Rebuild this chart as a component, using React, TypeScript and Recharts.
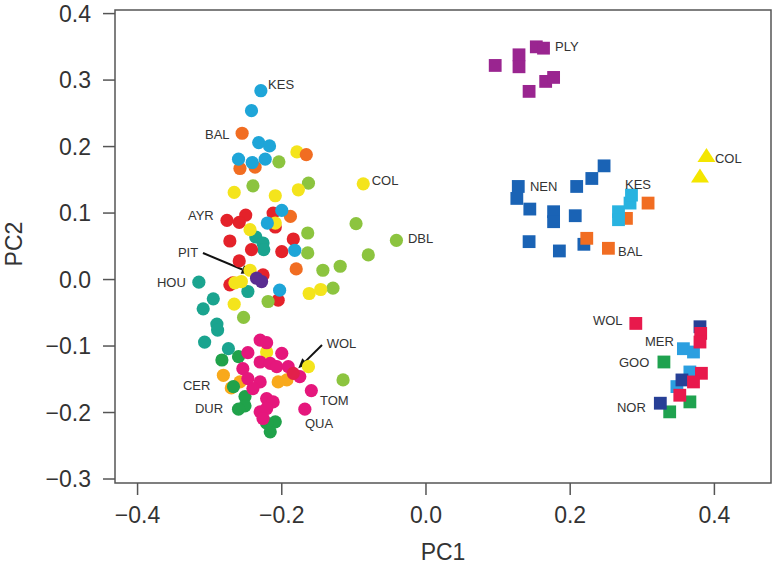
import React from 'react';
import { ScatterChart, Scatter, XAxis, YAxis, ReferenceArea, ReferenceLine, Label } from 'recharts';

const FONT = '"Liberation Sans", Arial, Helvetica, sans-serif';

// ---------- axis ticks ----------
const xTicks = [-0.4, -0.2, 0, 0.2, 0.4];
const yTicks = [-0.3, -0.2, -0.1, 0, 0.1, 0.2, 0.3, 0.4];
const xDomain = [-0.4313, 0.4785];
const yDomain = [-0.306, 0.4054];

// ---------- circles (left cluster) ----------
const cyanCircles = [[-0.229, 0.284], [-0.242, 0.254], [-0.232, 0.206], [-0.217, 0.201], [-0.260, 0.181], [-0.241, 0.176], [-0.223, 0.181], [-0.200, 0.104], [-0.220, 0.085], [-0.182, 0.044], [-0.203, -0.016]];
const orangeCircles = [[-0.255, 0.220], [-0.166, 0.188], [-0.258, 0.167], [-0.237, 0.169], [-0.188, 0.095], [-0.180, 0.016]];
const yellowCircles = [[-0.179, 0.192], [-0.266, 0.131], [-0.209, 0.126], [-0.177, 0.135], [-0.087, 0.144], [-0.209, 0.085], [-0.244, 0.075], [-0.244, 0.014], [-0.256, -0.003], [-0.265, -0.005], [-0.162, -0.021], [-0.146, -0.015], [-0.266, -0.037], [-0.221, -0.109], [-0.163, -0.131]];
const limeCircles = [[-0.204, 0.177], [-0.240, 0.141], [-0.163, 0.145], [-0.164, 0.070], [-0.164, 0.040], [-0.097, 0.084], [-0.080, 0.037], [-0.041, 0.059], [-0.119, 0.020], [-0.129, -0.013], [-0.143, 0.014], [-0.115, -0.151], [-0.219, -0.033], [-0.253, -0.057]];
const redCircles = [[-0.250, 0.097], [-0.212, 0.100], [-0.276, 0.089], [-0.259, 0.086], [-0.209, 0.079], [-0.272, 0.058], [-0.242, 0.045], [-0.200, 0.042], [-0.184, 0.061], [-0.259, 0.028], [-0.226, 0.007], [-0.268, -0.005], [-0.272, -0.008], [-0.205, -0.031]];
const tealCircles = [[-0.236, 0.064], [-0.226, 0.055], [-0.225, 0.045], [-0.315, -0.004], [-0.247, -0.018], [-0.295, -0.029], [-0.309, -0.044], [-0.290, -0.067], [-0.289, -0.076], [-0.307, -0.094], [-0.274, -0.104]];
const purpleCircles = [[-0.235, 0.002], [-0.228, -0.003]];
const lightOrangeCircles = [[-0.281, -0.144], [-0.258, -0.154], [-0.205, -0.154], [-0.193, -0.151], [-0.270, -0.163]];
const greenCircles = [[-0.283, -0.121], [-0.260, -0.116], [-0.267, -0.161], [-0.251, -0.176], [-0.251, -0.190], [-0.260, -0.195], [-0.209, -0.214], [-0.216, -0.229], [-0.221, -0.216]];
const pinkCircles = [[-0.230, -0.091], [-0.221, -0.095], [-0.247, -0.110], [-0.200, -0.111], [-0.230, -0.124], [-0.216, -0.126], [-0.207, -0.131], [-0.254, -0.134], [-0.191, -0.131], [-0.175, -0.146], [-0.247, -0.149], [-0.230, -0.154], [-0.240, -0.164], [-0.159, -0.167], [-0.221, -0.179], [-0.212, -0.184], [-0.230, -0.199], [-0.221, -0.194], [-0.168, -0.195], [-0.226, -0.209]];
const crimsonCircles = [[-0.184, -0.141]];

// ---------- squares / triangles (right clusters) ----------
const plySquares = [[0.096, 0.322], [0.129, 0.338], [0.129, 0.320], [0.153, 0.350], [0.163, 0.348], [0.143, 0.283], [0.166, 0.298], [0.177, 0.304]];
const nenSquares = [[0.128, 0.140], [0.126, 0.122], [0.144, 0.106], [0.177, 0.102], [0.177, 0.087], [0.207, 0.096], [0.209, 0.140], [0.230, 0.152], [0.247, 0.171], [0.143, 0.057], [0.185, 0.043], [0.219, 0.053]];
const balSquares = [[0.223, 0.062], [0.253, 0.047], [0.308, 0.115], [0.278, 0.092]];
const kesSquares = [[0.267, 0.102], [0.267, 0.090], [0.283, 0.115], [0.285, 0.127]];
const colTriangles = [[0.389, 0.186], [0.380, 0.155]];
const wolSquares = [[0.291, -0.066], [0.381, -0.081], [0.380, -0.094], [0.382, -0.141], [0.371, -0.154], [0.352, -0.174]];
const norSquares = [[0.380, -0.071], [0.355, -0.151], [0.325, -0.186]];
const merSquares = [[0.357, -0.104], [0.371, -0.109], [0.366, -0.139], [0.348, -0.161]];
const gooSquares = [[0.330, -0.124], [0.366, -0.184], [0.338, -0.199]];

// ---------- text labels ----------
const labelNames = ['KES', 'BAL', 'COL', 'DBL', 'AYR', 'PIT', 'HOU', 'WOL', 'CER', 'DUR', 'TOM', 'QUA', 'PLY', 'NEN', 'KES', 'BAL', 'COL', 'WOL', 'MER', 'GOO', 'NOR'];
const labelX = [-0.219, -0.3065, -0.0753, -0.025, -0.3301, -0.344, -0.3731, -0.1377, -0.337, -0.3204, -0.147, -0.1678, 0.1789, 0.1442, 0.276, 0.2663, 0.4008, 0.2316, 0.3037, 0.2677, 0.2649];
const labelY = [0.2941, 0.2174, 0.1497, 0.0624, 0.097, 0.0414, -0.0038, -0.0955, -0.1587, -0.1933, -0.1813, -0.2159, 0.3502, 0.1396, 0.1422, 0.0418, 0.1828, -0.0609, -0.0936, -0.1252, -0.1923];

// ---------- arrows ----------
const arrowFrom = [[-0.3093, 0.0399], [-0.1442, -0.0985]];
const arrowTo = [[-0.2418, 0.0093], [-0.1771, -0.1336]];

const toPts = (arr: number[][]) => arr.map(([x, y]) => ({ x, y }));

const circle = (color: string) => (p: any) => <circle cx={p.cx} cy={p.cy} r={6.6} fill={color} />;
const square = (color: string) => (p: any) => <rect x={p.cx - 6.4} y={p.cy - 6.4} width={12.8} height={12.8} fill={color} />;
const triangle = (color: string) => (p: any) => (
  <polygon points={`${p.cx},${p.cy - 8} ${p.cx - 9},${p.cy + 6} ${p.cx + 9},${p.cy + 6}`} fill={color} />
);

const series = [
  { key: 'teal', data: tealCircles, shape: circle('#1aa48f') },
  { key: 'red', data: redCircles, shape: circle('#e4222a') },
  { key: 'lime', data: limeCircles, shape: circle('#8cc43f') },
  { key: 'yellow', data: yellowCircles, shape: circle('#f4e41c') },
  { key: 'orange', data: orangeCircles, shape: circle('#f16d22') },
  { key: 'cyan', data: cyanCircles, shape: circle('#1ea5d8') },
  { key: 'purple', data: purpleCircles, shape: circle('#5a2d91') },
  { key: 'lightOrange', data: lightOrangeCircles, shape: circle('#f8a91c') },
  { key: 'green', data: greenCircles, shape: circle('#20a24a') },
  { key: 'pink', data: pinkCircles, shape: circle('#e5177c') },
  { key: 'crimson', data: crimsonCircles, shape: circle('#e2204b') },
  { key: 'ply', data: plySquares, shape: square('#9a2590') },
  { key: 'nen', data: nenSquares, shape: square('#1a63b5') },
  { key: 'bal', data: balSquares, shape: square('#f16d22') },
  { key: 'kes', data: kesSquares, shape: square('#29b3e0') },
  { key: 'col', data: colTriangles, shape: triangle('#f4e600') },
  { key: 'mer', data: merSquares, shape: square('#2b9fe0') },
  { key: 'goo', data: gooSquares, shape: square('#1fa24f') },
  { key: 'nor', data: norSquares, shape: square('#273f96') },
  { key: 'wol', data: wolSquares, shape: square('#e8194c') },
];

const labelData = labelNames.map((text, i) => ({ x: labelX[i], y: labelY[i], text }));

const labelShape = (p: any) => (
  <text x={p.cx} y={p.cy} dominantBaseline="central" fontSize={13} fill="#333" fontFamily={FONT}>
    {p.payload.text}
  </text>
);

const arrowShape = (p: any) => {
  const { x1, y1, x2, y2 } = p;
  const a = Math.atan2(y2 - y1, x2 - x1);
  const L = 10, W = 4.5;
  const bx = x2 - L * Math.cos(a), by = y2 - L * Math.sin(a);
  const lx = bx + W * Math.sin(a), ly = by - W * Math.cos(a);
  const rx = bx - W * Math.sin(a), ry = by + W * Math.cos(a);
  return (
    <g>
      <line x1={x1} y1={y1} x2={bx} y2={by} stroke="#111" strokeWidth={2} />
      <polygon points={`${x2},${y2} ${lx},${ly} ${rx},${ry}`} fill="#111" />
    </g>
  );
};

const fmt = (v: number) => (v < 0 ? '\u2212' : '') + Math.abs(v).toFixed(1);

export default function App() {
  return (
    <div style={{ position: 'absolute', left: 0, top: 0, width: 777, height: 568, background: '#fff' }}>
      <ScatterChart width={777} height={568} margin={{ top: 10, right: 6, bottom: 0, left: 0 }}>
        <XAxis
          type="number"
          dataKey="x"
          domain={xDomain}
          ticks={xTicks}
          allowDataOverflow
          height={85}
          axisLine={false}
          tickLine={{ stroke: '#555', strokeWidth: 1.5 }}
          tickSize={12}
          tickMargin={12}
          tickFormatter={fmt}
          tick={{ fontSize: 23, fill: '#333', fontFamily: FONT }}
        >
          <Label
            content={(props: any) => {
              const vb = props.viewBox;
              return (
                <text x={vb.x + vb.width / 2} y={vb.y + 69} textAnchor="middle" dominantBaseline="central" fontSize={23} fill="#333" fontFamily={FONT}>
                  PC1
                </text>
              );
            }}
          />
        </XAxis>
        <YAxis
          type="number"
          dataKey="y"
          domain={yDomain}
          ticks={yTicks}
          allowDataOverflow
          width={115}
          axisLine={false}
          tickLine={{ stroke: '#555', strokeWidth: 1.5 }}
          tickSize={12}
          tickMargin={12}
          tickFormatter={fmt}
          tick={{ fontSize: 23, fill: '#333', fontFamily: FONT }}
        >
          <Label
            content={() => (
              <text x={14} y={244} transform="rotate(-90 14 244)" textAnchor="middle" dominantBaseline="central" fontSize={23} fill="#333" fontFamily={FONT}>
                PC2
              </text>
            )}
          />
        </YAxis>
        <ReferenceArea x1={xDomain[0]} x2={xDomain[1]} y1={yDomain[0]} y2={yDomain[1]} fill="none" fillOpacity={0} stroke="#555" strokeWidth={1.5} ifOverflow="visible" />
        {series.map((s) => (
          <Scatter key={s.key} data={toPts(s.data)} shape={s.shape} isAnimationActive={false} />
        ))}
        {arrowFrom.map((f, i) => (
          <ReferenceLine
            key={'arr' + i}
            segment={[{ x: f[0], y: f[1] }, { x: arrowTo[i][0], y: arrowTo[i][1] }]}
            shape={arrowShape}
            ifOverflow="visible"
          />
        ))}
        <Scatter data={labelData} shape={labelShape} isAnimationActive={false} />
      </ScatterChart>
    </div>
  );
}
